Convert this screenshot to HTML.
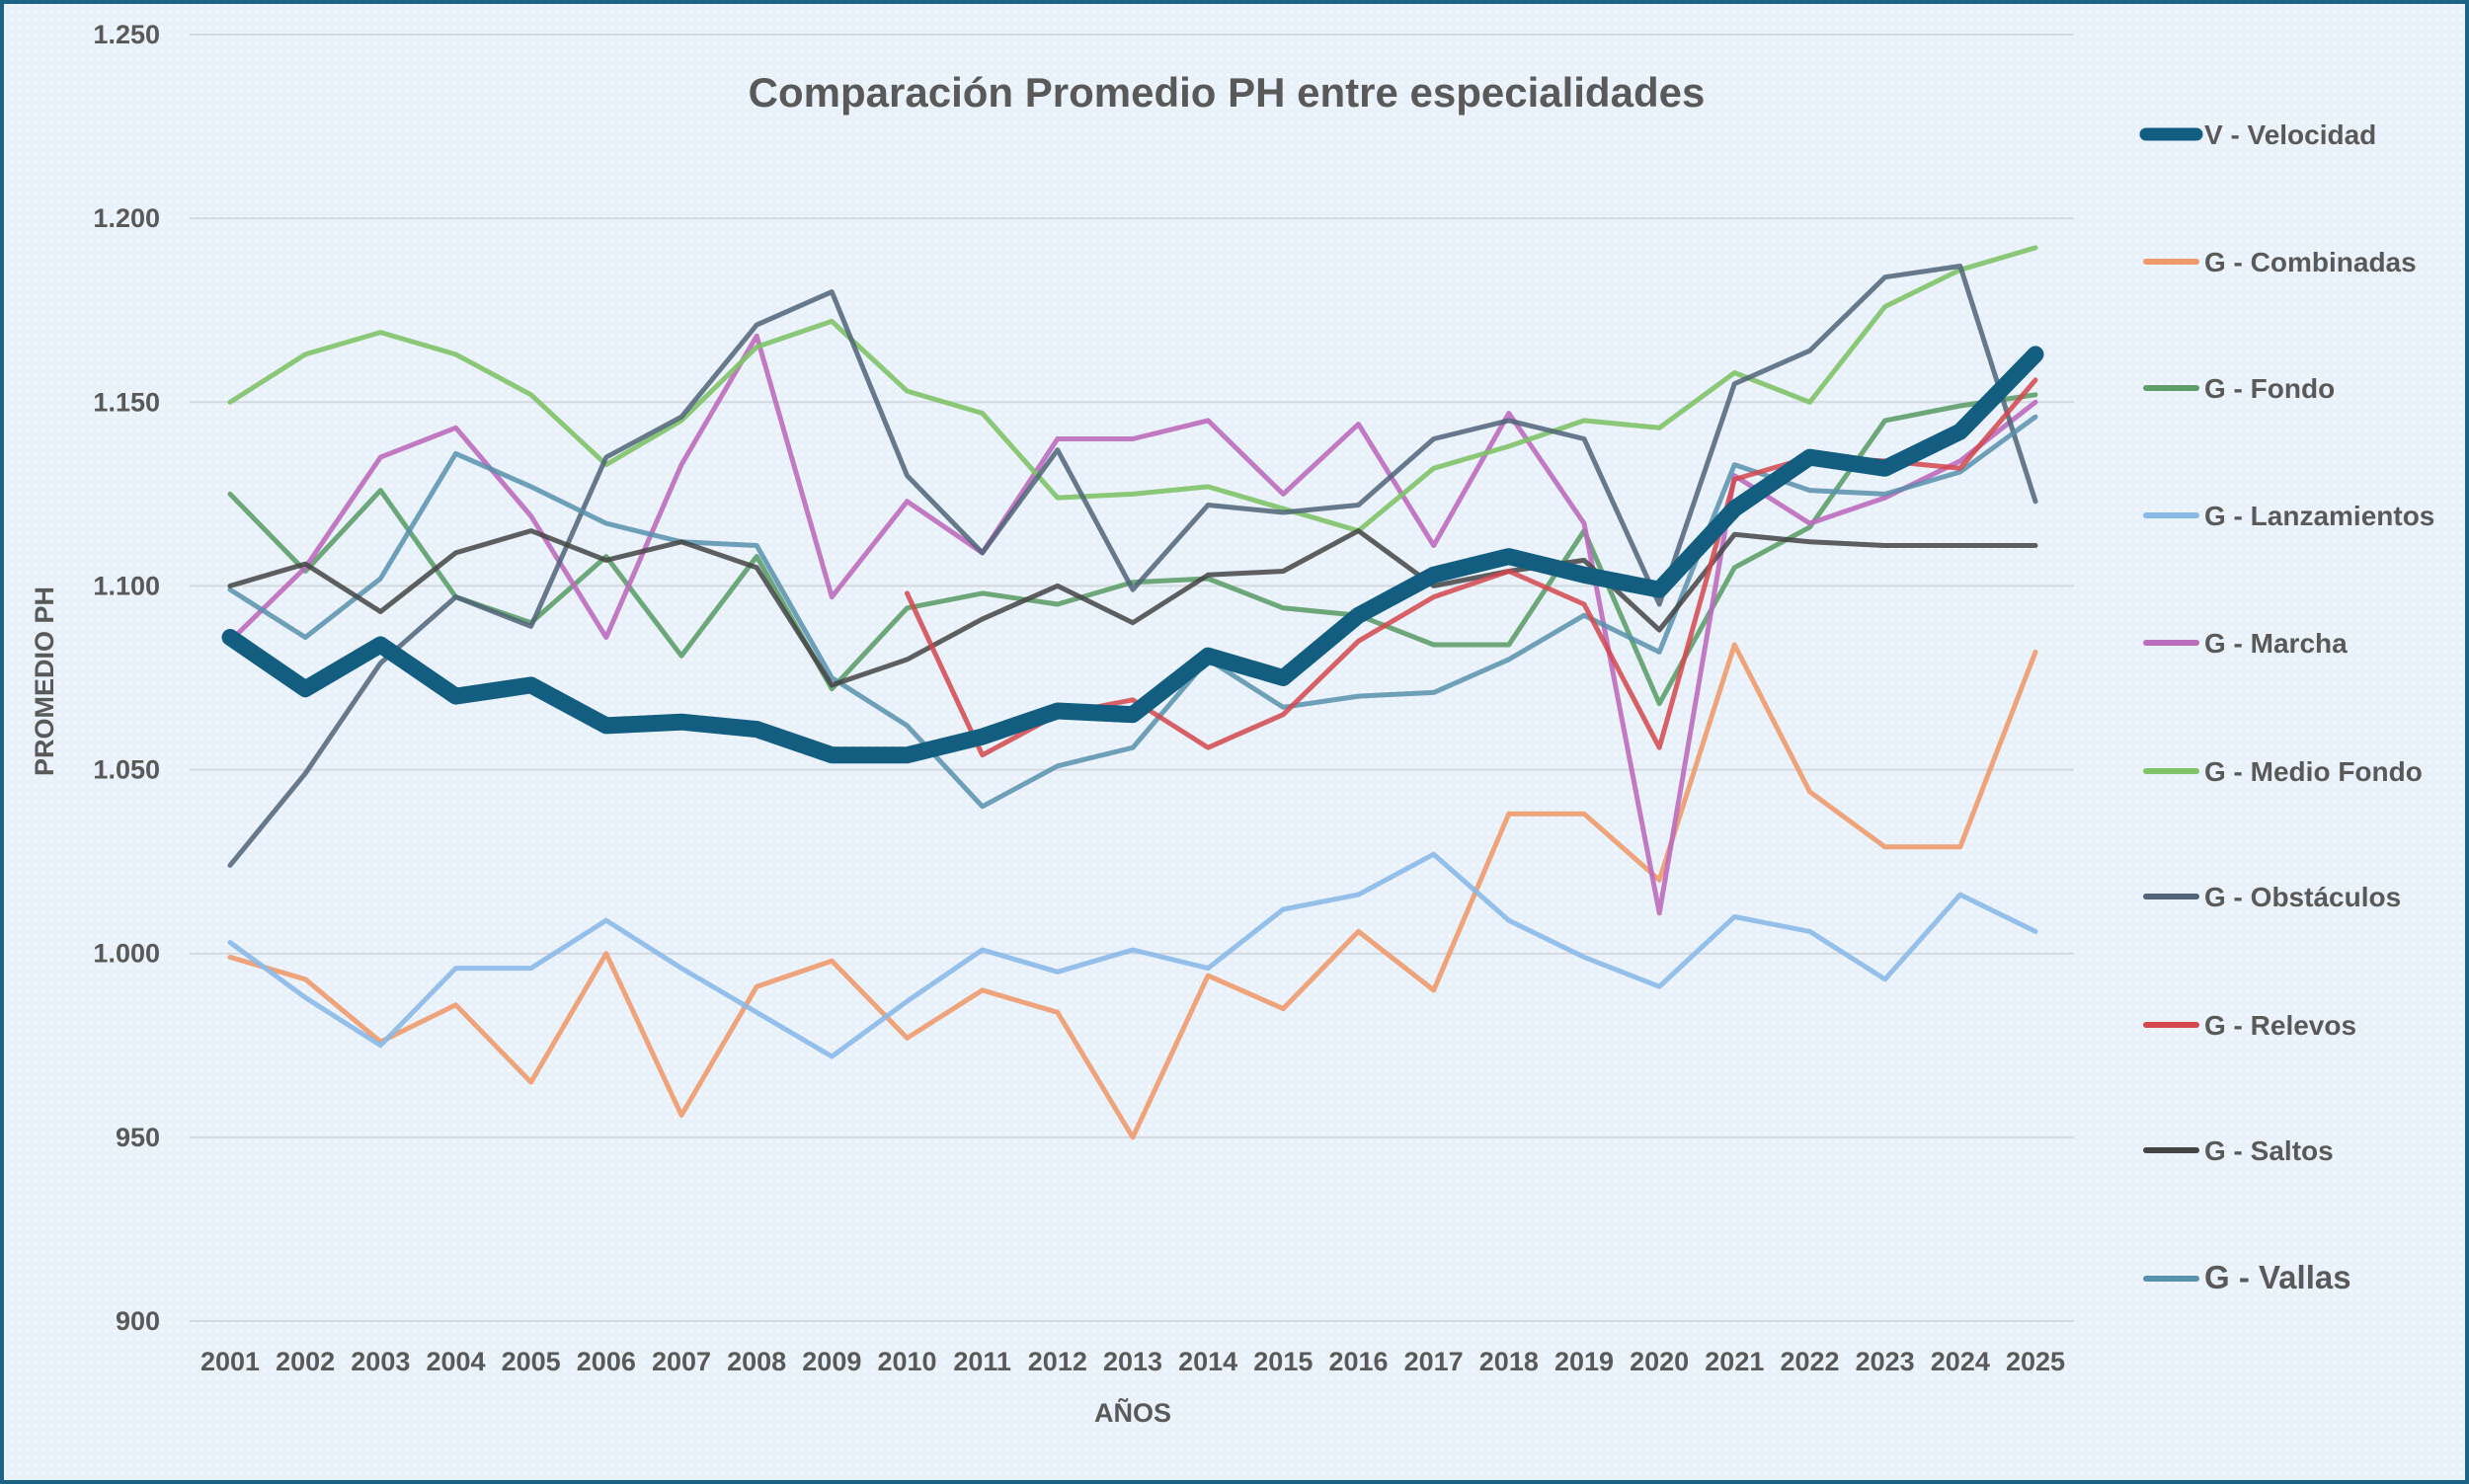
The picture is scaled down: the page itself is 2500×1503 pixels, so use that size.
<!DOCTYPE html>
<html><head><meta charset="utf-8"><style>
html,body{margin:0;padding:0}
body{width:2500px;height:1503px;overflow:hidden;background:#fff}
svg{display:block}
text{font-family:"Liberation Sans",sans-serif;font-weight:bold;fill:#595959}
</style></head><body>
<svg id="chart" width="2500" height="1503" viewBox="0 0 2500 1503">
<defs>
<pattern id="dots" width="8" height="8" patternUnits="userSpaceOnUse">
<rect width="8" height="8" fill="#e9f1fa"/><circle cx="4" cy="4" r="1.2" fill="#fafcff"/>
</pattern>
</defs>
<rect x="2" y="2" width="2496" height="1499" fill="url(#dots)" stroke="#1a6384" stroke-width="4"/>
<text x="1242" y="108" font-size="42" text-anchor="middle">Comparación Promedio PH entre especialidades</text>
<g id="grid"></g>
<g id="yticks"></g>
<g id="xticks"></g>
<text x="1147" y="1440" font-size="27" text-anchor="middle">AÑOS</text>
<text x="0" y="0" font-size="27" text-anchor="middle" transform="translate(54,690) rotate(-90)">PROMEDIO PH</text>
<g id="series"></g>
<g id="legend"></g>
</svg>
<script>
const years = [2001,2002,2003,2004,2005,2006,2007,2008,2009,2010,2011,2012,2013,2014,2015,2016,2017,2018,2019,2020,2021,2022,2023,2024,2025];
const yTicks = [900,950,1000,1050,1100,1150,1200,1250];
const yTickLabels = ["900","950","1.000","1.050","1.100","1.150","1.200","1.250"];
const velocidad = [1086,1072,1084,1070,1073,1062,1063,1061,1054,1054,1059,1066,1065,1081,1075,1092,1103,1108,1103,1099,1121,1135,1132,1142,1163];
const combinadas = [999,993,976,986,965,1000,956,991,998,977,990,984,950,994,985,1006,990,1038,1038,1020,1084,1044,1029,1029,1082];
const fondo = [1125,1104,1126,1097,1090,1108,1081,1108,1072,1094,1098,1095,1101,1102,1094,1092,1084,1084,1115,1068,1105,1116,1145,1149,1152];
const lanzamientos = [1003,988,975,996,996,1009,996,984,972,987,1001,995,1001,996,1012,1016,1027,1009,999,991,1010,1006,993,1016,1006];
const marcha = [1085,1105,1135,1143,1119,1086,1133,1168,1097,1123,1109,1140,1140,1145,1125,1144,1111,1147,1117,1011,1130,1117,1124,1134,1150];
const medioFondo = [1150,1163,1169,1163,1152,1133,1145,1165,1172,1153,1147,1124,1125,1127,1121,1115,1132,1138,1145,1143,1158,1150,1176,1186,1192];
const obstaculos = [1024,1049,1079,1097,1089,1135,1146,1171,1180,1130,1109,1137,1099,1122,1120,1122,1140,1145,1140,1095,1155,1164,1184,1187,1123];
const relevos = [null,null,null,null,null,null,null,null,null,1098,1054,1065,1069,1056,1065,1085,1097,1104,1095,1056,1129,1135,1134,1132,1156];
const saltos = [1100,1106,1093,1109,1115,1107,1112,1105,1073,1080,1091,1100,1090,1103,1104,1115,1100,1104,1107,1088,1114,1112,1111,1111,1111];
const vallas = [1099,1086,1102,1136,1127,1117,1112,1111,1075,1062,1040,1051,1056,1080,1067,1070,1071,1080,1092,1082,1133,1126,1125,1131,1146];
const seriesNames = ["V - Velocidad","G - Combinadas","G - Fondo","G - Lanzamientos","G - Marcha","G - Medio Fondo","G - Obstáculos","G - Relevos","G - Saltos","G - Vallas"];

const NS="http://www.w3.org/2000/svg";
const X0=233,X1=2061,Y0=1338,Y1=35,YMIN=900,YMAX=1250,GL=192,GR=2100;
function xs(i){return X0+(X1-X0)*i/(years.length-1);}
function ys(v){return Y0-(v-YMIN)/(YMAX-YMIN)*(Y0-Y1);}
function mk(tag,attrs,parent){const e=document.createElementNS(NS,tag);for(const k in attrs)e.setAttribute(k,attrs[k]);parent.appendChild(e);return e;}

const grid=document.getElementById('grid'),yt=document.getElementById('yticks'),xt=document.getElementById('xticks');
yTicks.forEach((v,i)=>{
  const l=mk('line',{x1:GL,x2:GR,y1:ys(v),y2:ys(v),stroke:'#d4d9e0','stroke-width':2},grid);
  
  
  const t=mk('text',{x:162,y:ys(v)+9,'font-size':27,'text-anchor':'end'},yt);
  t.textContent=yTickLabels[i];
  
  
});
years.forEach((y,i)=>{
  const t=mk('text',{x:xs(i),y:1388,'font-size':27,'text-anchor':'middle'},xt);
  t.textContent=y;
  
  
});

const styles=[
 {data:velocidad,color:'#135e80',w:17,op:1},
 {data:combinadas,color:'#ee9a6c',w:5,op:0.9},
 {data:fondo,color:'#5e9e6a',w:5,op:0.9},
 {data:lanzamientos,color:'#8ab9e8',w:5,op:0.9},
 {data:marcha,color:'#bb6cbb',w:5,op:0.9},
 {data:medioFondo,color:'#80c368',w:5,op:0.9},
 {data:obstaculos,color:'#4f6478',w:5,op:0.85},
 {data:relevos,color:'#d4474c',w:5,op:0.85},
 {data:saltos,color:'#444',w:5,op:0.85},
 {data:vallas,color:'#5891ac',w:5,op:0.85}
];
const sg=document.getElementById('series');
const order=[1,3,2,4,5,6,9,8,7,0];
order.forEach(k=>{
  const s=styles[k];let d='';let pen=false;
  s.data.forEach((v,i)=>{if(v==null){pen=false;return;}d+=(pen?'L':'M')+xs(i).toFixed(1)+','+ys(v).toFixed(1)+' ';pen=true;});
  const p=mk('path',{d:d,fill:'none',stroke:s.color,'stroke-width':s.w,'stroke-opacity':s.op,'stroke-linejoin':'round','stroke-linecap':'round'},sg);
  
  
});

const lg=document.getElementById('legend');
const ly=[136,265,393,522,651,781,908,1038,1165,1295];
seriesNames.forEach((n,i)=>{
  const g=mk('g',{},lg);
  
  
  mk('line',{x1:2173,x2:2224,y1:ly[i],y2:ly[i],stroke:styles[i].color,'stroke-width':i==0?13:6,'stroke-linecap':'round'},g);
  const t=mk('text',{x:2232,y:ly[i]+10,'font-size':i==9?33:28},g);
  t.textContent=n;
});
</script>
</body></html>
